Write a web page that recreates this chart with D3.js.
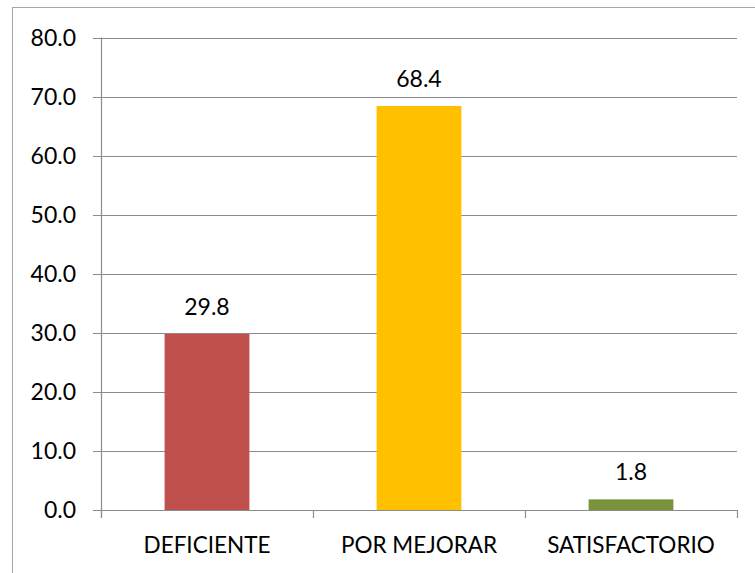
<!DOCTYPE html>
<html><head><meta charset="utf-8">
<script src="https://cdn.jsdelivr.net/npm/d3@7"></script>
<style>body{margin:0;background:#fff}svg{display:block}</style>
</head><body>
<script>
const categories = ["DEFICIENTE", "POR MEJORAR", "SATISFACTORIO"];
const values = [29.8, 68.4, 1.8];
const colors = ["#C0504D", "#FFC000", "#77933C"];
const yTicks = [0, 10, 20, 30, 40, 50, 60, 70, 80];

const W = 755, H = 573;
const m = {left: 101, right: 18, top: 37.5, bottom: 63};
const svg = d3.select("body").append("svg").attr("width", W).attr("height", H);
const font = "Lato, 'Open Sans', sans-serif";

svg.append("rect").attr("x", 12.5).attr("y", 7.5).attr("width", W).attr("height", H)
  .attr("fill", "none").attr("stroke", "#a6a6a6").attr("stroke-width", 1);

const x = d3.scaleBand().domain(categories).range([m.left, W - m.right]).paddingInner(0.6).paddingOuter(0.3);
const y = d3.scaleLinear().domain([0, 80]).range([H - m.bottom, m.top]);

const g = svg.append("g");
g.selectAll("line.grid").data(yTicks).join("line")
  .attr("x1", m.left - 8).attr("x2", W - m.right)
  .attr("y1", d => Math.round(y(d)) + 0.5).attr("y2", d => Math.round(y(d)) + 0.5)
  .attr("stroke", "#8c8c8c").attr("stroke-width", 1.2);
g.selectAll("text.yl").data(yTicks).join("text")
  .attr("x", m.left - 25).attr("y", d => y(d)).attr("dy", "0.36em")
  .attr("text-anchor", "end").attr("font-family", font).attr("font-size", 23).attr("fill", "#000")
  .text(d => d.toFixed(1));
g.append("line").attr("x1", m.left + 0.5).attr("x2", m.left + 0.5).attr("y1", y(80)).attr("y2", y(0) + 8)
  .attr("stroke", "#8c8c8c").attr("stroke-width", 1.2);
const bounds = d3.range(categories.length + 1).map(i => m.left + (W - m.right - m.left) * i / categories.length);
g.selectAll("line.xt").data(bounds).join("line")
  .attr("x1", d => Math.round(d) + 0.5).attr("x2", d => Math.round(d) + 0.5)
  .attr("y1", y(0)).attr("y2", y(0) + 8).attr("stroke", "#8c8c8c").attr("stroke-width", 1.2);

g.selectAll("rect.bar").data(values).join("rect")
  .attr("x", (d, i) => x(categories[i])).attr("width", x.bandwidth())
  .attr("y", d => y(d)).attr("height", d => y(0) - y(d))
  .attr("fill", (d, i) => colors[i]);
g.selectAll("text.vl").data(values).join("text")
  .attr("x", (d, i) => x(categories[i]) + x.bandwidth() / 2).attr("y", d => y(d) - 19)
  .attr("text-anchor", "middle").attr("font-family", font).attr("font-size", 23).attr("fill", "#000")
  .text(d => d.toFixed(1));
g.selectAll("text.cl").data(categories).join("text")
  .attr("x", d => x(d) + x.bandwidth() / 2).attr("y", y(0) + 43)
  .attr("text-anchor", "middle").attr("font-family", font).attr("font-size", 22.5).attr("fill", "#000")
  .text(d => d);
</script>
</body></html>
